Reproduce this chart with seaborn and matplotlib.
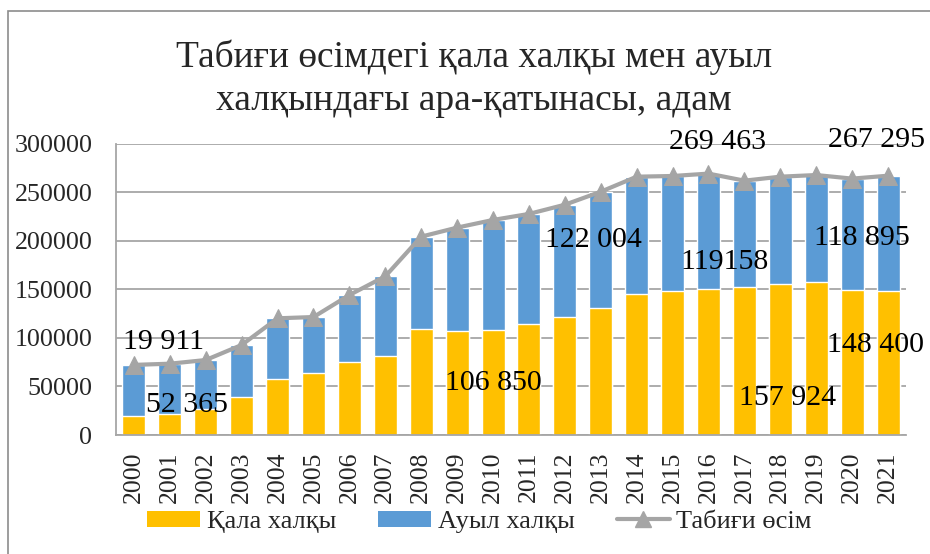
import matplotlib
matplotlib.use("Agg")
import matplotlib.pyplot as plt
import seaborn as sns
import numpy as np
import pandas as pd
from matplotlib.patches import Patch, Rectangle
from matplotlib.lines import Line2D

years = [str(y) for y in range(2000, 2022)]
urban = [19911, 21300, 26500, 39200, 57700, 63600, 75000, 81800, 109000, 106850,
         108600, 114400, 122004, 130600, 145000, 148500, 150305, 152600, 155700,
         157924, 149200, 148400]
rural = [52365, 52200, 50800, 53600, 62600, 58000, 69300, 81800, 95500, 106950,
         113100, 113500, 115400, 120200, 121300, 118500, 119158, 109600, 110600,
         110100, 115100, 118895]
growth = [72276, 73500, 77300, 92800, 120300, 121600, 144300, 163600, 204500, 213800,
          221700, 227900, 237400, 250800, 266300, 267000, 269463, 262200, 266300,
          268000, 264300, 267295]

# free-floating value labels as in the original (text, x-position index, y value)
label_texts = ["19 911", "52 365", "106 850", "122 004", "269 463", "119158",
               "267 295", "118 895", "148 400", "157 924"]
label_x = [0.83, 1.47, 10.0, 12.8, 16.26, 16.44, 20.67, 20.28, 20.64, 18.2]
label_y = [96000, 31000, 53600, 201000, 302000, 178700, 304000, 203000, 92800, 38100]

title_lines = ["Табиғи өсімдегі қала халқы мен ауыл",
               "халқындағы ара-қатынасы, адам"]
legend_labels = ["Қала халқы", "Ауыл халқы", "Табиғи өсім"]

c_urban = "#FFC000"
c_rural = "#5B9BD5"
c_line = "#A5A5A5"

sns.set_theme(style="white")
plt.rcParams["font.family"] = ["Liberation Serif", "DejaVu Serif"]

df = pd.DataFrame({"year": years, "urban": urban, "rural": rural, "growth": growth})
df["total"] = df["urban"] + df["rural"]

fig = plt.figure(figsize=(9.3, 5.54), dpi=100)
ax = fig.add_axes([0.1247, 0.2148, 0.8495, 0.5253])

sns.barplot(data=df, x="year", y="total", color=c_rural, saturation=1, width=0.64,
            ax=ax, zorder=2)
sns.barplot(data=df, x="year", y="urban", color=c_urban, saturation=1, width=0.64,
            ax=ax, zorder=2)
sns.lineplot(x=np.arange(len(years)), y=df["growth"], color=c_line, lw=3,
             marker="^", markersize=13, markeredgecolor=c_line, ax=ax, zorder=4)

ax.set_xlim(-0.5, 21.5)
ax.set_ylim(0, 300000)
ax.set_yticks(range(0, 300001, 50000))
ax.set_yticklabels([str(v) for v in range(0, 300001, 50000)], fontsize=18.7)
ax.set_xticks(range(len(years)))
ax.set_xticklabels(years, rotation=90, fontsize=18.5)
ax.tick_params(axis="y", length=0, pad=17)
ax.tick_params(axis="x", length=0, pad=12)
ax.set_xlabel("")
ax.set_ylabel("")
ax.grid(axis="y", color="#A6A6A6", lw=1.3, zorder=0)
ax.set_axisbelow(True)
for s in ["top", "right"]:
    ax.spines[s].set_visible(False)
for s in ["left", "bottom"]:
    ax.spines[s].set_color("#A6A6A6")
    ax.spines[s].set_linewidth(1.3)

for t, x, y in zip(label_texts, label_x, label_y):
    ax.text(x, y, t, ha="center", va="center", fontsize=21.5, color="black",
            zorder=5, clip_on=False)

fig.text(0.51, 1 - 66.7 / 554, title_lines[0], ha="center", va="baseline",
         fontsize=27)
fig.text(0.51, 1 - 110 / 554, title_lines[1], ha="center", va="baseline",
         fontsize=27)

handles = [Patch(facecolor=c_urban, edgecolor="none"),
           Patch(facecolor=c_rural, edgecolor="none"),
           Line2D([0], [0], color=c_line, lw=3, marker="^", markersize=11)]
fig.legend(handles, legend_labels, loc="center", bbox_to_anchor=(0.5156, 0.0578),
           ncol=3, frameon=False, fontsize=19, handlelength=2.0,
           handletextpad=0.25, columnspacing=1.6, handleheight=0.6)

fig.patches.append(Rectangle((8 / 930, -0.1), 1.2, 1.1 - 11 / 554,
                             transform=fig.transFigure, fill=False,
                             edgecolor="#8C8C8C", lw=1.2))

fig.savefig("out.png", dpi=100)
